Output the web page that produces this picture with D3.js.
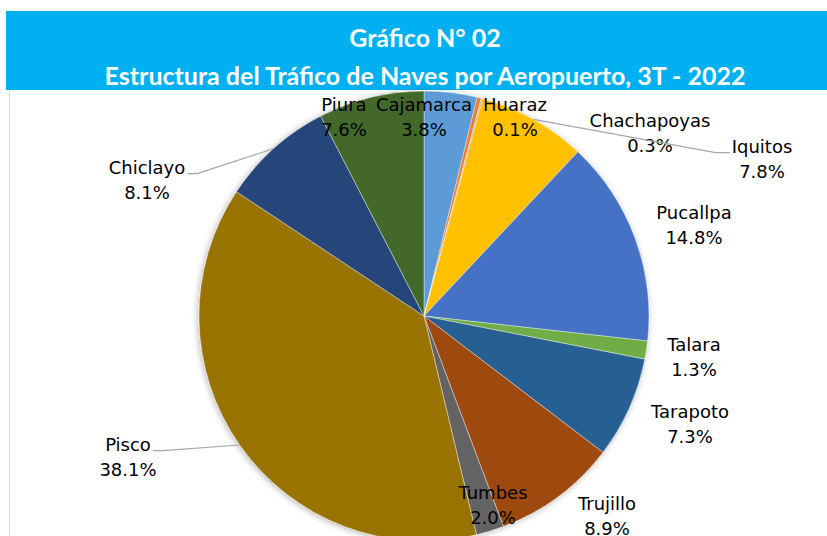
<!DOCTYPE html>
<html>
<head>
<meta charset="utf-8">
<script src="https://cdn.jsdelivr.net/npm/d3@7"></script>
<style>
  body { margin: 0; background: #fff; }
  #container { width: 827px; height: 536px; overflow: hidden; }
</style>
</head>
<body>
<div id="container"></div>
<script>
// Chart data (clockwise from 12 o'clock)
const airports = ["Cajamarca", "Chachapoyas", "Huaraz", "Iquitos", "Pucallpa", "Talara",
    "Tarapoto", "Trujillo", "Tumbes", "Pisco", "Chiclayo", "Piura"];
const shares = [3.8, 0.3, 0.1, 7.8, 14.8, 1.3, 7.3, 8.9, 2.0, 38.1, 8.1, 7.6];
const sliceColors = ["#5B9BD5", "#ED7D31", "#A5A5A5", "#FFC000", "#4472C4", "#70AD47",
    "#255E91", "#9E480E", "#636363", "#997300", "#264478", "#43682B"];
const titleLines = ["Gráfico N° 02", "Estructura del Tráfico de Naves por Aeropuerto, 3T - 2022"];

// Where Excel put each label (centre of first line), and which ones get a leader line
const labelSpots = [[424, 105], [650, 121], [515, 105], [762, 147], [694, 213], [694, 345],
    [690, 412], [607, 504], [493, 493], [128, 445], [147, 168], [344, 105]];
const withLeader = ["Iquitos", "Pisco", "Chiclayo"];

const width = 827;
const height = 536;
const cx = 424, cy = 316, radius = 225;

let svg;

function initSvg() {
    svg = d3.select("#container").append("svg")
        .attr("width", width)
        .attr("height", height)
        .attr("style", "font-family: 'DejaVu Sans', sans-serif;");

    const defs = svg.append("defs");
    const shadow = defs.append("filter")
        .attr("id", "pieShadow")
        .attr("x", "-10%").attr("y", "-10%")
        .attr("width", "120%").attr("height", "120%");
    shadow.append("feDropShadow")
        .attr("dx", -1).attr("dy", 1)
        .attr("stdDeviation", 3)
        .attr("flood-color", "#000")
        .attr("flood-opacity", 0.3);
}

function drawFrame() {
    // chart area border
    svg.append("rect")
        .attr("x", 9.5).attr("y", 89.5)
        .attr("width", width + 10).attr("height", height)
        .attr("fill", "#fff")
        .attr("stroke", "#D9D9D9");

    // title band
    svg.append("rect")
        .attr("x", 6).attr("y", 11)
        .attr("width", width - 6).attr("height", 79)
        .attr("fill", "#00B0F0");

    svg.append("g")
        .attr("fill", "#fff")
        .attr("font-family", "Lato, 'Open Sans', sans-serif")
        .attr("font-weight", "bold")
        .attr("font-size", 25)
        .attr("text-anchor", "middle")
        .selectAll("text")
        .data(titleLines)
        .join("text")
        .attr("x", 425)
        .attr("y", (d, i) => i === 0 ? 38 : 76)
        .attr("dy", "0.35em")
        .text(d => d);
}

function drawPie() {
    const rows = airports.map((name, i) => ({ name, value: shares[i], color: sliceColors[i], spot: labelSpots[i] }));

    const pie = d3.pie()
        .sort(null)
        .value(d => d.value);

    const arcs = pie(rows);
    const arc = d3.arc().innerRadius(0).outerRadius(radius);
    const rim = d3.arc().innerRadius(radius).outerRadius(radius);

    const g = svg.append("g")
        .attr("transform", `translate(${cx},${cy})`);

    g.append("g")
        .attr("filter", "url(#pieShadow)")
        .selectAll("path")
        .data(arcs)
        .join("path")
        .attr("d", arc)
        .attr("fill", d => d.data.color)
        .attr("stroke", "#fff")
        .attr("stroke-width", 0.4);

    // labels
    const labels = svg.append("g")
        .attr("font-size", 18)
        .attr("fill", "#000")
        .attr("text-anchor", "middle")
        .selectAll("text")
        .data(arcs)
        .join("text")
        .attr("x", d => d.data.spot[0])
        .attr("y", d => d.data.spot[1])
        .attr("dy", "0.35em");

    labels.append("tspan")
        .attr("class", "name")
        .attr("x", d => d.data.spot[0])
        .text(d => d.data.name);

    labels.append("tspan")
        .attr("x", d => d.data.spot[0])
        .attr("dy", 25)
        .text(d => d.data.value.toFixed(1) + "%");

    // leader lines from the slice rim to the label
    const leaders = [];
    labels.each(function (d) {
        if (!withLeader.includes(d.data.name)) return;
        const box = d3.select(this).select(".name").node().getBBox();
        const [rx, ry] = rim.centroid(d);
        const px = cx + rx, py = cy + ry;
        const left = px > box.x + box.width / 2;
        const ex = left ? box.x + box.width + 2 : box.x - 2;
        const ey = box.y + box.height * 0.78;
        const kx = left ? ex + 10 : ex - 14;
        leaders.push([[px, py], [kx, ey], [ex, ey]]);
    });

    svg.append("g")
        .attr("fill", "none")
        .attr("stroke", "#A6A6A6")
        .attr("stroke-width", 1.2)
        .selectAll("path")
        .data(leaders)
        .join("path")
        .attr("d", d3.line());
}

initSvg();
drawFrame();
drawPie();
</script>
</body>
</html>
